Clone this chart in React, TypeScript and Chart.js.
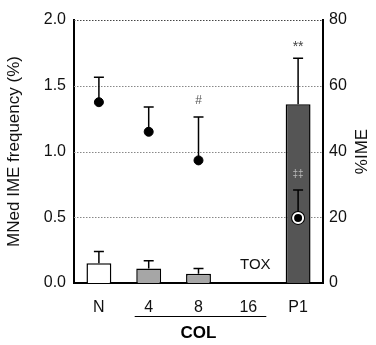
import React, { useEffect, useRef } from "react";
import { Chart, registerables } from "chart.js";

Chart.register(...registerables);

const categories = ["N", "4", "8", "16", "P1"];
const mnFreq = [0.15, 0.11, 0.07, null, 1.36];
const mnFreqErr = [0.24, 0.17, 0.11, null, 1.71];
const imePct = [55, 46, 37.3, null, 19.8];
const imePctErr = [62.6, 53.5, 50.5, null, 28.3];
const barColors = ["#ffffff", "#a6a6a6", "#a6a6a6", "#a6a6a6", "#555555"];
const leftTicks = [0, 0.5, 1.0, 1.5, 2.0];
const rightTicks = [0, 20, 40, 60, 80];

const FONT = "'Liberation Sans', Arial, Helvetica, sans-serif";

export default function App() {
  const ref = useRef<HTMLCanvasElement>(null);
  useEffect(() => {
    document.body.style.margin = "0";
    const canvas = ref.current!;
    const overlay = {
      id: "overlay",
      beforeDatasetsDraw(chart: any) {
        const { ctx, chartArea, scales } = chart;
        const y = scales.y;
        ctx.save();
        ctx.setLineDash([1.5, 1.5]);
        ctx.lineWidth = 1;
        leftTicks.forEach((v) => {
          if (v === 0) return;
          const py = Math.round(y.getPixelForValue(v)) + 0.5;
          ctx.strokeStyle = v === 2 ? "#444" : "#888";
          ctx.beginPath();
          ctx.moveTo(chartArea.left, py);
          ctx.lineTo(chartArea.right, py);
          ctx.stroke();
        });
        ctx.restore();
      },
      afterDatasetDraw(chart: any, args: any) {
        if (args.index !== 0) return;
        const { ctx, scales } = chart;
        const x = scales.x, y = scales.y, y1 = scales.y1;
        ctx.save();
        ctx.strokeStyle = "#000";
        ctx.lineWidth = 1.5;
        const drawErr = (px: number, from: number, to: number) => {
          ctx.beginPath();
          ctx.moveTo(px, from);
          ctx.lineTo(px, to);
          ctx.moveTo(px - 5, to);
          ctx.lineTo(px + 5, to);
          ctx.stroke();
        };
        categories.forEach((_, i) => {
          const px = x.getPixelForValue(i);
          if (mnFreq[i] != null && mnFreqErr[i] != null) {
            drawErr(px, y.getPixelForValue(mnFreq[i]), y.getPixelForValue(mnFreqErr[i]));
          }
          if (imePct[i] != null && imePctErr[i] != null) {
            drawErr(px, y1.getPixelForValue(imePct[i]), y1.getPixelForValue(imePctErr[i]));
          }
        });
        ctx.restore();
      },
      afterDraw(chart: any) {
        const { ctx, scales, chartArea } = chart;
        const x = scales.x, y = scales.y;
        ctx.save();
        ctx.textAlign = "center";
        ctx.textBaseline = "middle";
        // ** above P1
        ctx.fillStyle = "#444";
        ctx.font = `14px ${FONT}`;
        ctx.fillText("**", x.getPixelForValue(4), y.getPixelForValue(mnFreqErr[4] as number) - 11);
        // # above 8
        ctx.font = `12px ${FONT}`;
        ctx.fillStyle = "#555";
        ctx.fillText("#", x.getPixelForValue(2), chart.scales.y1.getPixelForValue(imePctErr[2] as number) - 16);
        // ‡‡ inside P1 bar
        ctx.font = `10px ${FONT}`;
        ctx.fillStyle = "#bbbbbb";
        ctx.fillText("‡‡", x.getPixelForValue(4), y.getPixelForValue(0.83));
        // TOX
        ctx.font = `15px ${FONT}`;
        ctx.fillStyle = "#111";
        ctx.fillText("TOX", x.getPixelForValue(3) + 7, y.getPixelForValue(0.135));
        // COL line and label
        const yb = chartArea.bottom;
        ctx.strokeStyle = "#000";
        ctx.lineWidth = 1;
        ctx.beginPath();
        ctx.moveTo(x.getPixelForValue(1) - 14, yb + 33.5);
        ctx.lineTo(x.getPixelForValue(3) + 18, yb + 33.5);
        ctx.stroke();
        ctx.font = `bold 17px ${FONT}`;
        ctx.fillStyle = "#000";
        ctx.fillText("COL", x.getPixelForValue(2), yb + 50);
        // right axis title, reading bottom-to-top
        ctx.save();
        ctx.translate(chart.width - 14, (chartArea.top + chartArea.bottom) / 2);
        ctx.rotate(-Math.PI / 2);
        ctx.font = `17px ${FONT}`;
        ctx.fillStyle = "#111";
        ctx.fillText("%IME", 0, 0);
        ctx.restore();
        ctx.restore();
      },
    };

    const chart = new Chart(canvas, {
      data: {
        labels: categories,
        datasets: [
          {
            type: "bar",
            data: mnFreq as any,
            yAxisID: "y",
            backgroundColor: barColors,
            borderColor: "#000",
            borderWidth: 1.5,
            categoryPercentage: 1,
            barPercentage: 0.5,
            order: 3,
          },
          {
            type: "line",
            data: [null, null, null, null, imePct[4]] as any,
            yAxisID: "y1",
            showLine: false,
            pointRadius: 7,
            pointBackgroundColor: "#000",
            pointBorderWidth: 0,
            order: 2,
          },
          {
            type: "line",
            data: imePct as any,
            yAxisID: "y1",
            showLine: false,
            pointRadius: [4.5, 4.5, 4.5, 4.5, 5],
            pointBackgroundColor: "#000",
            pointBorderColor: ["#000", "#000", "#000", "#000", "#fff"],
            pointBorderWidth: [1, 1, 1, 1, 2],
            order: 1,
          },
        ],
      } as any,
      options: {
        animation: false,
        responsive: false,
        events: [],
        layout: { padding: { top: 20, left: 0, right: 0, bottom: 0 } },
        plugins: { legend: { display: false }, tooltip: { enabled: false } },
        scales: {
          x: {
            type: "category",
            offset: true,
            grid: { display: false, drawTicks: false },
            border: { display: true, color: "#000", width: 2 },
            ticks: { padding: 15, color: "#111", font: { family: FONT, size: 16 } },
            afterFit: (s: any) => { s.height = 62; },
          },
          y: {
            position: "left",
            min: 0,
            max: 2,
            afterBuildTicks: (s: any) => { s.ticks = leftTicks.map((v) => ({ value: v })); },
            ticks: {
              padding: 8,
              color: "#111",
              font: { family: FONT, size: 16 },
              callback: (v: any) => Number(v).toFixed(1),
            },
            grid: { display: false, drawTicks: false },
            border: { display: true, color: "#000", width: 2 },
            title: {
              display: true,
              text: "MNed IME frequency (%)",
              color: "#111",
              font: { family: FONT, size: 17 },
              padding: { top: 4, bottom: 0 },
            },
            afterFit: (s: any) => { s.width = 74; },
          },
          y1: {
            position: "right",
            min: 0,
            max: 80,
            afterBuildTicks: (s: any) => { s.ticks = rightTicks.map((v) => ({ value: v })); },
            ticks: { padding: 6, color: "#111", font: { family: FONT, size: 16 } },
            grid: { display: false, drawTicks: false },
            border: { display: true, color: "#000", width: 2 },
            afterFit: (s: any) => { s.width = 53; },
          },
        },
      } as any,
      plugins: [overlay],
    });
    return () => chart.destroy();
  }, []);
  return (
    <div style={{ width: 376, height: 345 }}>
      <canvas ref={ref} width={376} height={345} style={{ display: "block" }} />
    </div>
  );
}
